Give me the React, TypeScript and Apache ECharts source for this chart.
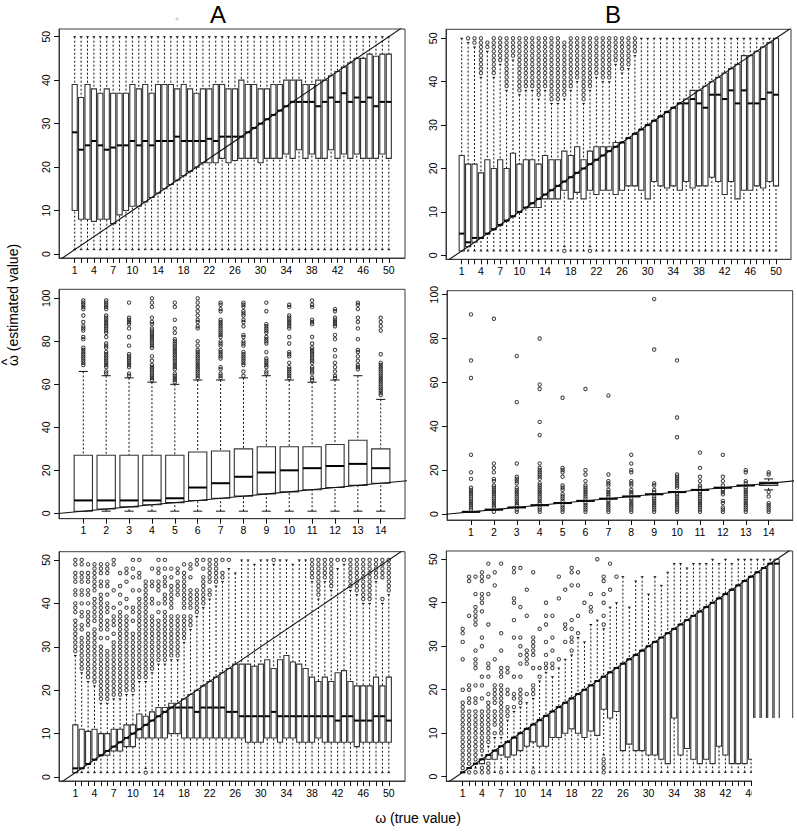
import React, { useEffect, useRef } from "react";
import * as echarts from "echarts";

const columns50 = [1,2,3,4,5,6,7,8,9,10,11,12,13,14,15,16,17,18,19,20,21,22,23,24,25,26,27,28,29,30,31,32,33,34,35,36,37,38,39,40,41,42,43,44,45,46,47,48,49,50];
const columns14 = [1,2,3,4,5,6,7,8,9,10,11,12,13,14];
const labels50 = [1,4,7,10,14,18,22,26,30,34,38,42,46,50];
const ticks50y = [0,10,20,30,40,50];
const ticks100y = [0,20,40,60,80,100];
const diagonalEnds = [-5, 110];

// Panel A, top
const aTopQ3 = [39,36,39,38,37,38,37,37,37,39,38,39,37,39,39,39,38,39,38,37,38,38,39,39,38,38,40,39,39,38,38,39,39,40,40,40,39,39,40,40,41,42,43,44,45,45,46,45.5,46,46];
const aTopMed = [28,24,25,26,25,24,24.5,25,25,26,25,26,25,26,26,26,27,26,26,26,26,26.5,26,27,27,27,27,28,29,30,31,32,33,34,35,35,35,35,34,35,36,35,37,35,36,35,36,34,35,35];
const aTopQ1 = [10,8,8,7.5,8,8,7,9,10,11,11,12,13,14,15,16,17,18,19,20,21,21,21,22,21,21.5,22,22,22,21,22,22,22,23,22,24,22,23,22,22,24,22,23,22,23,22,22,22,23,22];
const aTopHi = columns50.map(() => 50);
const aTopLo = columns50.map(() => 1);
const aTopOutliers: number[][] = columns50.map(() => []);

// Panel B, top
const bTopQ3 = [23,21,21,19,22,20,22,20,23.5,21,22,22,21,23,22,22,24,23,25,22,24,25,25,25,26,26,27,28,29,30,31,32,33,34,35,36,38,38,39,40,41,42,43,44,46,46,47,48,49,50];
const bTopMed = [5,3,4,4,5,6,7,8,9,10,11,12,13,14,15,16,17,18,19,20,21,22,23,24,25,26,27,28,29,30,31,32,33,34,35,35,36,35,34,37,37,36,38,35,38,35,35,36,37.5,37];
const bTopQ1 = [1,2,3,4,5,6,7,8,9,10,11,11,11,13,13,13,15,13,14.5,13,15,14,15,15,14,15,16,16,15,13,17,16,15.5,16,15,17,15.5,16,16,18,17,14,17,13,15,15,16,15.5,17,16];
const bTopHi = [50,49,48,41,47,41,44,38,45,37,38,38,36,38,35,35,36,38,40,35,38,41,40,40,44,42,43,46,50,50,50,50,50,50,50,50,50,50,50,50,50,50,50,50,50,50,50,50,50,50];
const bTopLo = [1,1,1,1,1,1,1,1,1,1,1,1,1,1,1,1,2,1,1,1,2,1,1,1,1,1,1,1,1,1,1,1,1,1,1,1,1,1,1,1,1,1,1,1,1,1,1,1,1,1];
const bTopOutliers: number[][] = [
  [],[50],[50,49],[50,49,48,47,46,45,44,43,42],[49,48],
  [50,49,48,47,46,45,44,43,42],[50,49,48,47,46,45],[50,49,48,47,46,45,44,43,42,41,40,39],[50,49,48,47,46],[50,49,48,47,46,45,44,43,42,41,40,39,38],
  [50,49,48,47,46,45,44,43,42,41,40,39],[50,49,48,47,46,45,44,43,42,41,40,39],[50,49,48,47,46,45,44,43,42,41,40,39,38,37],[50,49,48,47,46,45,44,43,42,41,40,39],[50,49,48,47,46,45,44,43,42,41,40,39,38,37,36],
  [50,49,48,47,46,45,44,43,42,41,40,39,38,37,36],[49,48,47,46,45,44,43,42,41,40,39,38,37,1],[50,49,48,47,46,45,44,43,42,41,40,39],[50,49,48,47,46,45,44,43,42,41],[50,49,48,47,46,45,44,43,42,41,40,39,38,37,36],
  [50,49,48,47,46,45,44,43,42,41,40,39,1],[50,49,48,47,46,45,44,43,42],[50,49,48,47,46,45,44,43,42,41],[50,49,48,47,46,45,44,43,42,41],[50,49,48,47,46,45],
  [50,49,48,47,46,45,44,43],[50,49,48,47,46,45,44],[50,49,48,47],
];

// Panel A, middle
const aMidQ3 = [27,27,27,27,27,28.5,29,30,31,31,31,32,34,30];
const aMidMed = [6,6,6,6,7,12,14,17,19,20,21,22,23,21];
const aMidQ1 = [1,2,3,4,5,6,7,8,9,10,11,12,13,14];
const aMidHi = [66,64,63,61,60,62,62,63,64,62,61,62,64,53];
const aMidLo = [1,1,1,1,1,1,1,1,1,1,1,1,1,1];
const aMidOutliers: number[][] = [
  [99,98,97,96,95,92,89,87,86,85,82,81,77,76,75,74,73,72,71,70,69],
  [99,98,97,96,95,92,91,90,89,88,87,86,85,84,82,79,78,77,75,74,73,72,71,70,69,68,66,65],
  [98,91,90,89,88,86,82,78,74,73,72,71,70,69,68,65,64],
  [100,98,96,91,89,88,86,85,84,83,82,81,80,79,78,77,73,71,69,68,67,66,65,64,63,62],
  [98,96,90,86,84,81,80,79,78,77,76,75,74,73,72,71,70,69,68,67,65,64,63,62,61],
  [100,98,96,94,92,90,89,87,86,80,78,76,75,74,73,72,71,70,69,68,67,66,65,64,63],
  [98,97,95,94,90,89,88,87,86,85,84,83,82,80,79,78,76,75,74,73,72,68,67,65,64,63],
  [98,97,96,94,93,92,90,89,87,83,82,80,79,78,75,74,73,72,71,70,69,66,64],
  [98,94,88,87,86,85,84,82,81,80,79,75,72,71,70,69,68,66,65],
  [97,96,92,91,90,89,88,87,86,82,79,75,74,73,70,68,67,66,65,64,63],
  [99,97,96,90,89,88,82,79,77,76,75,74,73,72,71,70,68,67,66,65,63,62],
  [95,94,91,90,89,88,87,83,81,76,73,70,68,66,64,63],
  [98,97,95,91,89,86,81,76,75,73,71,69,68,67],
  [91,89,87,85,74,70,69,68,67,66,65,64,63,62,61,60,59,58,57,56,55],
];

// Panel B, middle
const bMidQ3 = [1,2,3,4,5,6,7,8,9,10,11,12,13,14.5];
const bMidMed = [1,2,3,4,5,6,7,8,9,10,11,12,13,14];
const bMidQ1 = [1,2,3,4,5,6,7,8,9,10,11,12,13,13];
const bMidHi = [1,2,3,4,5,6,7,8,9,10,11,12,13,16];
const bMidLo = [1,2,3,4,5,6,7,8,9,10,11,12,13,11];
const bMidOutliers: number[][] = [
  [91,70,62,27,19,16,12,11,10,9,8,7,6,5,4,3,2],
  [89,23,21,19,16,15,13,12,11,10,9,8,7,6,5,4,3,1],
  [72,51,23,17,16,15,14,12,11,10,9,8,7,6,5,4,2,1],
  [80,59,57,42,36,23,21,20,19,18,17,16,14,13,12,11,10,9,8,7,6,5,3,2,1],
  [53,21,20,19,17,13,12,11,9,8,7,6,4,3,2,1],
  [57,20,18,15,13,12,11,10,9,8,7,5,4,3,2,1],
  [54,18,15,14,13,11,10,9,8,6,5,4,3,2,1],
  [27,23,20,19,15,14,13,11,10,9,7,6,5,4,3,2,1],
  [98,75,14,13,11,10,8,7,6,5,4,3,2,1],
  [70,44,35,18,17,16,15,14,13,12,9,8,7,6,5,4,3,2,1],
  [28,21,17,15,13,12,10,9,8,7,6,5,4,3,2,1],
  [27,17,15,13,11,10,9,6,5,3,2,1],
  [20,19,15,14,12,11,10,9,8,7,6,5,4,3,2,1],
  [19,18,10,8,5,4,3,2,1],
];

// Panel A, bottom
const aBotQ3 = [12,11,10.5,11,10,10,11,11,12,12,14.5,14,15,16,16,17,17,18,19,20,21,22,23,24,25,26,26,26,25.5,26,27,25,27,28,26.5,26,25,23,22,23,22,24,24.5,22,21,21,21,23,21,23];
const aBotMed = [2,2,3,4,5,6,7,8,9,10,11,12,13,14,15,16,16,16,16,15,16,16,16,16,15,15,14,14,14,14,14,15,14,14,14,14,14,14,14,14,14,13,14,14,13,13,13,14,14,13];
const aBotQ1 = [1,2,3,4,5,5,6,6,7,7,9,9,9,9,9,10,10,9,9,9,9,9,9,9,9,9,9,8,8,8,9,9,8,9,9,8,8,8,9,8,8,8,8,8,7,8,8,8,8,8];
const aBotHi = [28,24,22,21,17,17,18,18,19,19,22,22,24,26,26,27,27,31,34,37,39,41,44,45,48,47,50,50,49,50,50,49,50,50,49,50,50,45,41,45,43,48,49,43,42,40,40,45,40,42];
const aBotLo = [1,1,1,1,1,1,1,1,1,1,1,2,1,1,1,1,1,1,1,1,1,1,1,1,1,1,1,1,1,1,1,1,1,1,1,1,1,1,1,1,1,1,1,1,1,1,1,1,1,1];
const aBotOutliers: number[][] = [
  [50,49,47,46,45,43,42,40,39,38,36,35,34,33,32,31,30,29],
  [50,49,47,46,45,43,42,40,38,37,35,34,32,31,30,29,28,27,26,25],
  [49,47,46,45,43,42,40,38,37,36,35,33,32,31,30,29,28,27,26,25,24,23],
  [49,48,47,46,45,44,43,41,40,39,38,37,36,34,33,32,31,30,29,28,27,26,25,24,23,22],
  [49,48,47,45,44,42,41,40,39,38,37,36,35,34,32,30,29,28,27,26,25,24,23,22,21,20,19,18],
  [49,48,47,45,44,42,40,39,38,36,35,34,32,29,28,27,26,25,24,23,22,21,20,19,18],
  [50,49,43,39,37,36,35,33,31,30,29,28,27,26,25,24,23,22,21,20,19],
  [47,44,42,40,38,37,36,35,34,33,32,31,30,29,28,27,26,25,24,23,22,21,20,19],
  [48,47,45,41,39,37,36,35,34,33,32,31,30,29,28,27,26,25,24,23,22,21,20],
  [50,48,46,43,39,38,36,33,32,31,30,29,28,27,26,25,24,23,22,21,20],
  [50,47,46,43,41,40,39,38,37,36,35,34,33,32,31,30,29,28,27,26,25,24,23],
  [45,44,43,42,41,40,39,38,37,36,35,34,33,32,31,30,29,28,27,26,25,24,23,1],
  [48,45,44,41,40,37,36,35,34,33,32,31,30,29,28,27,26,25],
  [50,48,47,45,44,43,40,38,36,35,34,33,32,31,30,29,28,27],
  [50,48,46,45,44,42,41,40,38,37,36,35,34,33,32,31,30,29,28,27],
  [48,46,44,43,42,41,40,39,37,36,35,34,33,32,31,30,29,28],
  [48,47,45,44,43,42,37,36,35,34,33,32,31,30,29,28],
  [49,47,46,45,44,43,42,41,40,39,37,36,35,34,33,32],
  [49,48,46,43,42,41,40,39,37,36,35],
  [50,49,43,42,41,40,39,38],
  [50,48,46,45,44,43,42,41,40],
  [50,49,48,47,46,45,43,42],
  [50,49,48,47,46,45],
  [50,47,46],
  [50],[],[],[],[],[],[],[50],[],[],[],[],[],
  [50,49,48,47,46],
  [50,49,48,47,46,45,44,43,42],
  [50,49,48,47,46],
  [50,49,48,47,46,45,44],
  [50],[50],
  [50,49,48,47,46,45,44],
  [50,49,48,47,46,45,44,43],
  [50,49,48,47,46,45,44,43,42,41],
  [50,49,48,47,46,45,44,43,42,41],
  [50,49,48,47,46],
  [50,49,48,47,46,41],
  [50,49,48,47,46,45,44,43],
];

// Panel B, bottom
const bBotQ3 = [1,2,3,4,5,6,7,8,9,10,11,12,13,14,15,16,17,18,19,20,21,22,23,24,25,26,27,28,29,30,31,32,33,34,35,36,37,38,39,40,41,42,43,44,45,46,47,48,49,50];
const bBotMed = [1,2,3,4,5,6,7,8,9,10,11,12,13,14,15,16,17,18,19,20,21,22,23,24,25,26,27,28,29,30,31,32,33,34,35,36,37,38,39,40,41,42,43,44,45,46,47,48,49,49];
const bBotQ1 = [1,2,3,3,4,4,5,4.5,5,6,7,8,7,7,9,9,10,11,10,9,10.5,9.5,15.5,13.5,15,6,7.5,6,6,5,5,4,3,13.5,5,6.5,4,3,4,3,7,5,3,3,3,4,3,4,3,3];
const bBotHi = [1,2,3,5,7,9,9,13,15,16,17,18,22,24,23,25,27,28,32,31,35,36,34,39,40,46,39,45,46,42,46,44,47,49,49,48,49,49,49,50,49,50,49,50,50,50,50,50,50,50];
const bBotLo = [1,2,2,3,4,1,2,1,1,1,1,2,1,1,1,1,1,1,1,1,1,1,5,1,1,1,1,1,1,1,1,1,1,1,1,1,1,1,1,1,1,1,1,1,1,1,1,1,1,1];
const bBotOutliers: number[][] = [
  [34,33,31,27,20,17,16,15,14,13,12,11,10,9,8,7,6,5,4,3,2],
  [46,45,37,21,20,18,17,15,14,13,12,11,10,9,8,7,6,5,4,3,1],
  [46,42,39,38,37,36,35,29,27,26,25,21,18,17,15,14,13,12,11,10,9,8,7,6,5,4,1],
  [47,46,45,42,41,40,38,32,30,23,21,18,15,14,13,12,11,10,9,8,7,6,2,1],
  [49,46,42,35,26,25,23,19,17,16,15,14,13,12,11,10,9,8,3,2,1],
  [47,44,27,21,20,19,18,17,15,14,13,12,10],
  [49,33,29,25,24,23,21,20,19,18,17,16,15,14,13,12,11,10,1],
  [25,24,20,19,16,15,14],
  [48,47,41,40,36,32,23,19,18,16],
  [48,39,32,30,28,26,23,20,19,18,17],
  [43,37,29,28,27,26,19],
  [47,32,31,30,29,28,25,21,20,19,1],
  [34,25,23],
  [40,37,35,31,28,26,25],
  [37,32,29,26,25],
  [46,41,27],
  [43,35,34,31],
  [48,47,44,36,34,32,31,29],
  [47,44,37,33],
  [40],
  [42,39,38],
  [50],
  [46,45,42,40,37,35,4,3,2,1],
  [49,43],
  [46],
];

const BOX_SHARE = 0.8;

function rows(q1: number[], med: number[], q3: number[], lo: number[], hi: number[], xs: number[]) {
  return xs.map((x, i) => [x, lo[i], q1[i], med[i], q3[i], hi[i]]);
}

function points(lists: number[][]) {
  return lists.flatMap((values, i) => values.map((v) => [i + 1, v]));
}

const INK = "#111111";

function renderBox(params: any, api: any) {
  const x = api.value(0);
  const lo = api.coord([x, api.value(1)]);
  const q1 = api.coord([x, api.value(2)]);
  const med = api.coord([x, api.value(3)]);
  const q3 = api.coord([x, api.value(4)]);
  const hi = api.coord([x, api.value(5)]);
  const w = api.size([BOX_SHARE, 0])[0];
  const cx = lo[0];
  const thin = { stroke: INK, lineWidth: 1, fill: "none" };
  const dash = { ...thin, lineDash: [2, 2] };
  const line = (x1: number, y1: number, x2: number, y2: number, style: any) => ({
    type: "line",
    shape: { x1, y1, x2, y2 },
    style,
  });
  return {
    type: "group",
    children: [
      line(cx, hi[1], cx, q3[1], dash),
      line(cx, lo[1], cx, q1[1], dash),
      line(cx - w / 4, hi[1], cx + w / 4, hi[1], thin),
      line(cx - w / 4, lo[1], cx + w / 4, lo[1], thin),
      {
        type: "rect",
        shape: { x: cx - w / 2, y: q3[1], width: w, height: q1[1] - q3[1] },
        style: { fill: "#ffffff", stroke: "#333333", lineWidth: 1.1 },
      },
      line(cx - w / 2, med[1], cx + w / 2, med[1], { stroke: "#000000", lineWidth: 2 }),
    ],
  };
}

const panels = [
  { left: 59, right: 405, top: 29, bottom: 258, xMin: -1.45, xMax: 52.53, yMin: -0.92, yMax: 51.77, xLabels: labels50, yTicks: ticks50y, ticks: columns50, box: rows(aTopQ1, aTopMed, aTopQ3, aTopLo, aTopHi, columns50), out: aTopOutliers },
  { left: 446, right: 791, top: 29.3, bottom: 259.3, xMin: -1.448, xMax: 52.34, yMin: -0.92, yMax: 52.07, xLabels: labels50, yTicks: ticks50y, ticks: columns50, box: rows(bTopQ1, bTopMed, bTopQ3, bTopLo, bTopHi, columns50), out: bTopOutliers },
  { left: 59, right: 405, top: 289.3, bottom: 518.7, xMin: -0.062, xMax: 15.06, yMin: -2.5, yMax: 104.2, xLabels: columns14, yTicks: ticks100y, ticks: columns14, box: rows(aMidQ1, aMidMed, aMidQ3, aMidLo, aMidHi, columns14), out: aMidOutliers },
  { left: 447, right: 792.7, top: 290.7, bottom: 520, xMin: -0.048, xMax: 15.05, yMin: -2.73, yMax: 101.8, xLabels: columns14, yTicks: ticks100y, ticks: columns14, box: rows(bMidQ1, bMidMed, bMidQ3, bMidLo, bMidHi, columns14), out: bMidOutliers },
  { left: 59, right: 405, top: 551.7, bottom: 781, xMin: -1.548, xMax: 52.53, yMin: -0.92, yMax: 51.9, xLabels: labels50, yTicks: ticks50y, ticks: columns50, box: rows(aBotQ1, aBotMed, aBotQ3, aBotLo, aBotHi, columns50), out: aBotOutliers },
  { left: 446.3, right: 792.7, top: 551, bottom: 781, xMin: -1.56, xMax: 52.5, yMin: -0.99, yMax: 51.9, xLabels: labels50, yTicks: ticks50y, ticks: columns50, box: rows(bBotQ1, bBotMed, bBotQ3, bBotLo, bBotHi, columns50), out: bBotOutliers },
];

const FONT = "'Liberation Sans', Arial, sans-serif";

function buildOption() {
  const grid = panels.map((p) => ({
    show: true,
    left: p.left,
    top: p.top,
    width: p.right - p.left,
    height: p.bottom - p.top,
    borderColor: "#3a3a3a",
    borderWidth: 1,
    backgroundColor: "#ffffff",
    containLabel: false,
  }));
  const axisLine = { show: true, onZero: false, lineStyle: { color: "#3a3a3a", width: 1 } };
  const xAxis = panels.map((p, i) => ({
    type: "value",
    gridIndex: i,
    min: p.xMin,
    max: p.xMax,
    splitLine: { show: false },
    axisLine,
    axisTick: { show: true, length: 5, customValues: p.ticks, lineStyle: { color: "#111", width: 1 } },
    axisLabel: { show: true, customValues: p.xLabels, margin: 6, fontSize: 10.5, fontFamily: FONT, color: "#000", hideOverlap: false },
  }));
  const yAxis = panels.map((p, i) => ({
    type: "value",
    gridIndex: i,
    min: p.yMin,
    max: p.yMax,
    splitLine: { show: false },
    axisLine,
    axisTick: { show: true, length: 5, customValues: p.yTicks, lineStyle: { color: "#111", width: 1 } },
    axisLabel: { show: true, customValues: p.yTicks, rotate: 90, margin: 8, fontSize: 10.5, fontFamily: FONT, color: "#000", hideOverlap: false },
  }));
  const series: any[] = [];
  panels.forEach((p, i) => {
    series.push({
      type: "custom",
      xAxisIndex: i,
      yAxisIndex: i,
      data: p.box,
      encode: { x: 0, y: [1, 2, 3, 4, 5] },
      renderItem: renderBox,
      silent: true,
      z: 2,
    });
    series.push({
      type: "scatter",
      xAxisIndex: i,
      yAxisIndex: i,
      data: points(p.out),
      symbol: "circle",
      symbolSize: 3.4,
      silent: true,
      itemStyle: { color: "rgba(255,255,255,0)", borderColor: INK, borderWidth: 1 },
      z: 3,
    });
    series.push({
      type: "line",
      xAxisIndex: i,
      yAxisIndex: i,
      data: diagonalEnds.map((v) => [v, v]),
      showSymbol: false,
      silent: true,
      clip: true,
      lineStyle: { color: "#111", width: 1.1 },
      z: 4,
    });
  });
  const title = (text: string, x: number) => ({
    type: "text",
    x,
    y: 14,
    z: 20,
    style: { text, font: `24px ${FONT}`, fill: "#000", textAlign: "center", textVerticalAlign: "middle" },
  });
  const graphic = [
    title("A", 218),
    title("B", 613),
    {
      type: "text",
      x: 13,
      y: 305,
      rotation: Math.PI / 2,
      z: 20,
      style: { text: "ω (estimated value)", font: `14px ${FONT}`, fill: "#000", textAlign: "center", textVerticalAlign: "middle" },
    },
    {
      type: "text",
      x: 7,
      y: 362,
      rotation: Math.PI / 2,
      z: 20,
      style: { text: "^", font: `14px ${FONT}`, fill: "#000", textAlign: "center", textVerticalAlign: "middle" },
    },
    {
      type: "text",
      x: 418,
      y: 818,
      z: 20,
      style: { text: "ω (true value)", font: `14px ${FONT}`, fill: "#000", textAlign: "center", textVerticalAlign: "middle" },
    },
    { type: "circle", shape: { cx: 177, cy: 19, r: 1.6 }, z: 20, style: { fill: "#d4d4d4" } },
    { type: "rect", shape: { x: 752, y: 718, width: 45, height: 80 }, z: 30, style: { fill: "#ffffff" } },
  ];
  return { animation: false, backgroundColor: "#ffffff", grid, xAxis, yAxis, series, graphic };
}

export default function App() {
  const ref = useRef<HTMLDivElement>(null);
  useEffect(() => {
    document.body.style.margin = "0";
    const chart = echarts.init(ref.current as HTMLDivElement, undefined, { renderer: "svg" });
    chart.setOption(buildOption() as any);
    return () => chart.dispose();
  }, []);
  return <div ref={ref} style={{ width: 797, height: 832 }} />;
}
